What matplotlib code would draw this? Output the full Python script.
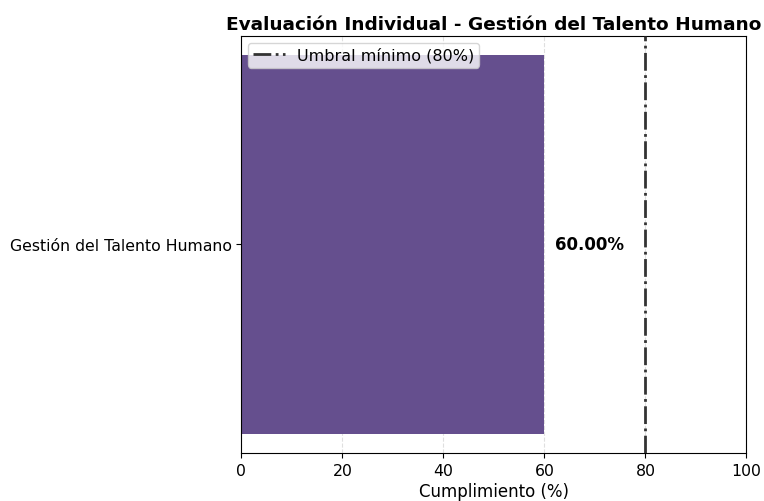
import matplotlib
matplotlib.use("Agg")
import matplotlib.pyplot as plt

categories = ["Gestión del Talento Humano"]
values = [60.0]
threshold = 80
xticks = [0, 20, 40, 60, 80, 100]

fig = plt.figure(figsize=(7.64, 5.02), dpi=100)
ax = fig.add_axes([0.316, 0.096, 0.661, 0.830])

ax.barh(categories, values, color="#654f8e", zorder=2)
ax.axvline(threshold, color="#333333", linestyle="-.", linewidth=2, label="Umbral mínimo (80%)", zorder=3)
for c, v in zip(categories, values):
    ax.text(v + 2, c, f"{v:.2f}%", va="center", ha="left", fontsize=12, fontweight="bold")

ax.set_xlim(0, 100)
ax.set_xticks(xticks)
ax.grid(axis="x", linestyle="--", alpha=0.4, zorder=0)
ax.set_xlabel("Cumplimiento (%)", fontsize=12, labelpad=3)
ax.set_title("Evaluación Individual - Gestión del Talento Humano", fontsize=13.3, fontweight="bold", pad=5)
ax.legend(loc="upper left", fontsize=11.5, borderaxespad=0.4, borderpad=0.3)
ax.tick_params(labelsize=11.3)

fig.savefig("out.png", dpi=100)
